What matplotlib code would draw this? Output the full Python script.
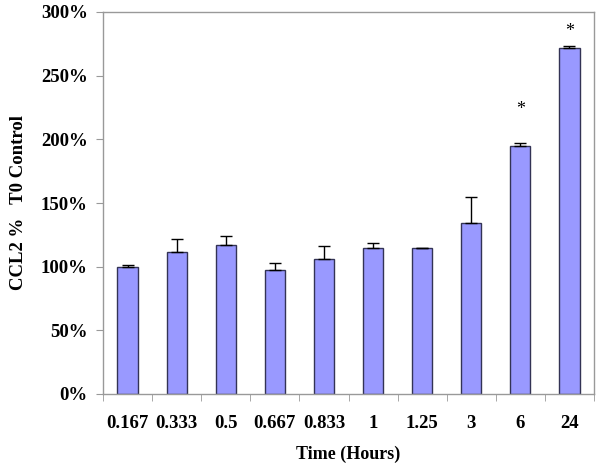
import numpy as np
import matplotlib.pyplot as plt

plt.rcParams['font.family'] = ['Liberation Serif', 'DejaVu Serif']
plt.rcParams['font.weight'] = 'bold'

times = ['0.167', '0.333', '0.5', '0.667', '0.833', '1', '1.25', '3', '6', '24']
ccl2 = [100, 111.3, 117.3, 97.6, 106, 115, 114.4, 134.6, 195, 271.5]
err = [1, 10.2, 6.7, 5.3, 10, 3.4, 0.6, 20.2, 2.5, 1.9]
# significance markers and the height they are drawn at
star_idx = [8, 9]
star_y = [223.5, 285]

fig = plt.figure(figsize=(6.02, 4.70), dpi=100)
ax = fig.add_axes([103/602, 1 - 394/470, 491/602, 382/470])

x = np.arange(len(times))
ax.bar(x, ccl2, width=0.41, color='#9999FF', edgecolor='#333355', linewidth=1.0, zorder=2)
ax.errorbar(x, ccl2, yerr=[np.zeros(len(err)), err], fmt='none', ecolor='black',
            elinewidth=1.0, capsize=4, capthick=1.0, zorder=3)
for i, sy in zip(star_idx, star_y):
    ax.text(x[i], sy, '*', ha='center', va='center', fontsize=13, fontweight='normal')

ax.set_xlim(-0.5, len(times) - 0.5)
ax.set_ylim(0, 300)
ax.set_yticks(np.arange(0, 301, 50))
ax.set_yticklabels([f'{v}%' for v in range(0, 301, 50)])
ax.set_xticks(x)
ax.set_xticklabels(times)
ax.set_xticks(np.arange(-0.5, len(times)), minor=True)
ax.tick_params(axis='x', which='major', length=0, pad=15, labelsize=13.5)
ax.tick_params(axis='x', which='minor', length=5, color='#999999', direction='out')
ax.tick_params(axis='y', length=5, color='#999999', labelsize=13.5, pad=6)
for sp in ax.spines.values():
    sp.set_color('#999999')
    sp.set_linewidth(1.0)

ax.set_xlabel('Time (Hours)', fontsize=13, fontweight='bold', labelpad=10)
ax.set_ylabel('CCL2 %   T0 Control', fontsize=13.5, fontweight='bold', labelpad=10)

fig.savefig('out.png', dpi=100)
